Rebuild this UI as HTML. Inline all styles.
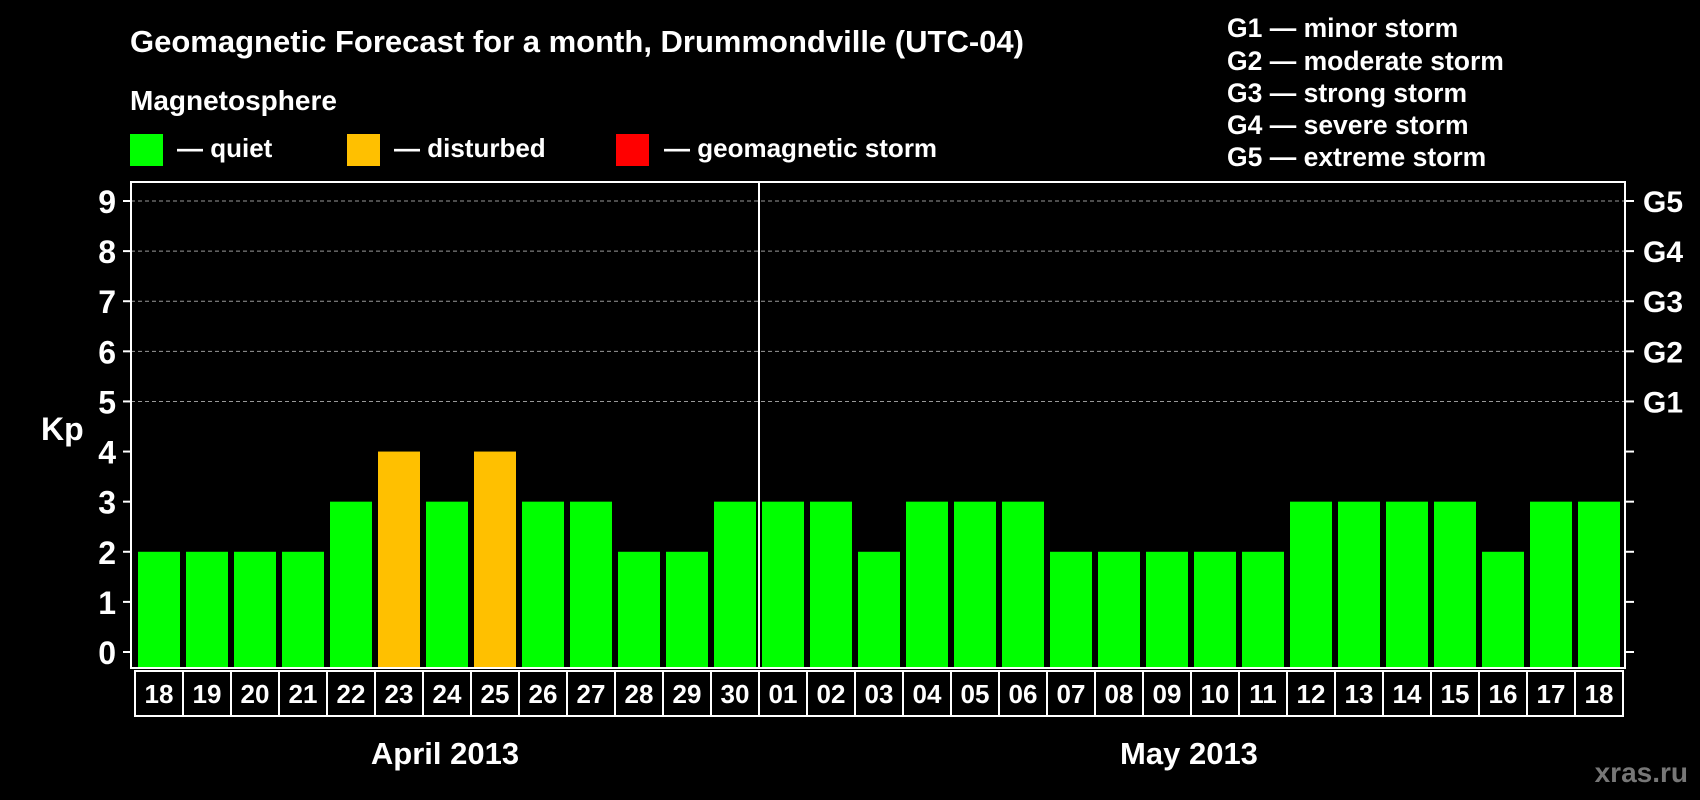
<!DOCTYPE html>
<html><head><meta charset="utf-8"><style>
html,body{margin:0;padding:0;background:#000;}
svg{display:block;font-family:"Liberation Sans",Arial,sans-serif;font-weight:bold;}
</style></head><body>
<svg id="c" width="1700" height="800" viewBox="0 0 1700 800" xmlns="http://www.w3.org/2000/svg">
<rect width="1700" height="800" fill="#000"/>
<text x="130" y="52" fill="#fff" font-size="31">Geomagnetic Forecast for a month, Drummondville (UTC-04)</text>
<text x="130" y="110" fill="#fff" font-size="28">Magnetosphere</text>
<rect x="130" y="134" width="33" height="32" fill="#00ff00"/>
<text x="177" y="157" fill="#fff" font-size="26">— quiet</text>
<rect x="347" y="134" width="33" height="32" fill="#ffc000"/>
<text x="394" y="157" fill="#fff" font-size="26">— disturbed</text>
<rect x="616" y="134" width="33" height="32" fill="#ff0000"/>
<text x="664" y="157" fill="#fff" font-size="26">— geomagnetic storm</text>
<g fill="#fff" font-size="26.5">
<text x="1227" y="37">G1 — minor storm</text>
<text x="1227" y="70">G2 — moderate storm</text>
<text x="1227" y="102">G3 — strong storm</text>
<text x="1227" y="134">G4 — severe storm</text>
<text x="1227" y="166">G5 — extreme storm</text>
</g>
<g id="plot"></g>
<text x="445" y="764" fill="#fff" font-size="31" text-anchor="middle">April 2013</text>
<text x="1189" y="764" fill="#fff" font-size="31" text-anchor="middle">May 2013</text>
<text x="1688" y="782" fill="#777" font-size="28" text-anchor="end">xras.ru</text>
</svg>
<script>
const days = ["18","19","20","21","22","23","24","25","26","27","28","29","30","01","02","03","04","05","06","07","08","09","10","11","12","13","14","15","16","17","18"];
const kpValues = [2,2,2,2,3,4,3,4,3,3,2,2,3,3,3,2,3,3,3,2,2,2,2,2,3,3,3,3,2,3,3];
const yTicks = [0,1,2,3,4,5,6,7,8,9];
const gLabels = ["","","","","","G1","G2","G3","G4","G5"];
const monthBreak = 13;

const NS = "http://www.w3.org/2000/svg";
const g = document.getElementById("plot");
const L = 131, R = 1625, T = 182, B = 668;
const y0 = 652, y9 = 201;
const yScale = v => y0 - (y0 - y9) * v / 9;
const pitch = 48, cellStart = 135;
const xScale = i => cellStart + i * pitch;
function mk(tag, attrs) { const e = document.createElementNS(NS, tag); for (const k in attrs) e.setAttribute(k, attrs[k]); g.appendChild(e); return e; }

yTicks.forEach((t, i) => {
  const y = yScale(t);
  if (t >= 5) {
    const l = mk("line", {x1: L, x2: R, y1: y, y2: y, stroke: "#999", "stroke-width": 1, "stroke-dasharray": "4,3"});
    
    
  }
  const tl = mk("line", {x1: L - 8, x2: L, y1: y, y2: y, stroke: "#fff", "stroke-width": 2});
  
  
  const tr = mk("line", {x1: R, x2: R + 9, y1: y, y2: y, stroke: "#fff", "stroke-width": 2});
  
  
  const tx = mk("text", {x: 116, y: y + 12, fill: "#fff", "font-size": 32, "text-anchor": "end"});
  tx.textContent = t;
  
  
  if (gLabels[i]) {
    const gt = mk("text", {x: 1643, y: y + 11, fill: "#fff", "font-size": 30});
    gt.textContent = gLabels[i];
    
    
  }
});

kpValues.forEach((v, i) => {
  const col = v >= 5 ? "#ff0000" : (v === 4 ? "#ffc000" : "#00ff00");
  const b = mk("rect", {x: xScale(i) + 3, width: 42, y: yScale(v), height: B - yScale(v) - 1, fill: col});
  
  
  const c = mk("rect", {x: xScale(i), y: 671, width: pitch, height: 45, fill: "none", stroke: "#fff", "stroke-width": 2});
  
  
  const t = mk("text", {x: xScale(i) + pitch / 2, y: 703, fill: "#fff", "font-size": 26, "text-anchor": "middle"});
  t.textContent = days[i];
  
  
});

const frame = mk("rect", {x: L, y: T, width: R - L, height: B - T, fill: "none", stroke: "#fff", "stroke-width": 2});


const sep = mk("line", {x1: xScale(monthBreak), x2: xScale(monthBreak), y1: T, y2: B, stroke: "#fff", "stroke-width": 2});


const kp = mk("text", {x: 41, y: 440, fill: "#fff", "font-size": 32});
kp.textContent = "Kp";


</script>
</body></html>
